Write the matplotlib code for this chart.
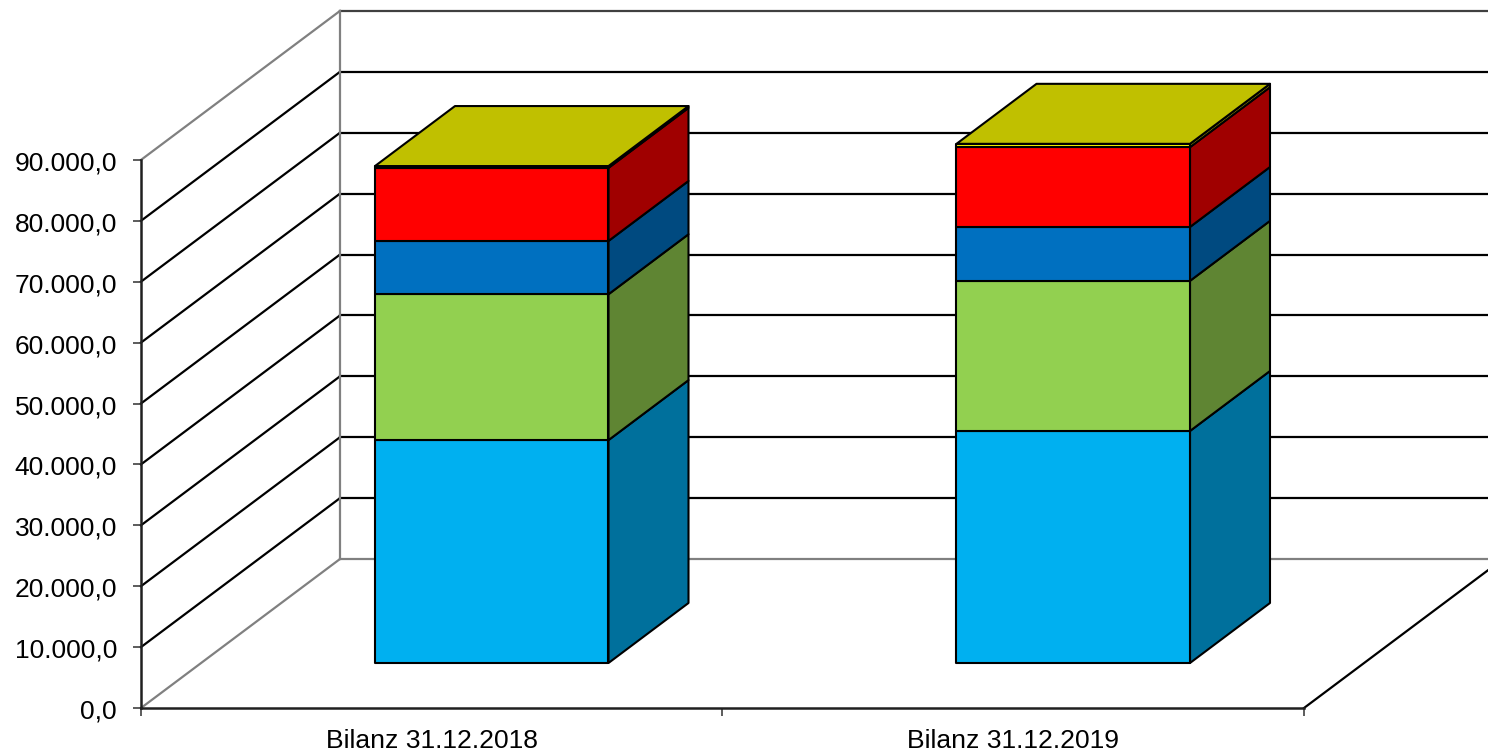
import matplotlib
matplotlib.use('Agg')
import matplotlib.pyplot as plt
from matplotlib.patches import Polygon
from matplotlib.transforms import ScaledTranslation

plt.rcParams['font.family'] = ['Liberation Sans', 'DejaVu Sans']

# --- data ---
categories = ['Bilanz 31.12.2018', 'Bilanz 31.12.2019']
series_1 = [36600, 38100]
series_2 = [23950, 24650]
series_3 = [8750, 8850]
series_4 = [12000, 13100]
series_5 = [300, 550]
stack = [series_1, series_2, series_3, series_4, series_5]

front_colors = ['#00B0F0', '#92D050', '#0070C0', '#FF0000', '#FFFF00']
side_colors = ['#00709C', '#5F8533', '#004A80', '#A00000', '#A0A000']
top_color = '#C0C000'

y_ticks = list(range(0, 100000, 10000))

# --- layout: pixels per data unit, 3D offsets ---
W, H = 1488, 752
PX_X = 581.5     # px per category
PX_Y = 0.00609   # px per value unit
ORIGIN_X, ORIGIN_Y = 141, 708
BAR_WIDTH = 233.5 / PX_X

wall_dx, wall_dy = 199 / PX_X, 149 / PX_Y     # front plane -> back wall
bar_dx, bar_dy = 60 / PX_X, 45 / PX_Y         # front plane -> bar front
depth_dx, depth_dy = 80 / PX_X, 60 / PX_Y     # bar front -> bar back

fig = plt.figure(figsize=(W / 100, H / 100), dpi=100)
ax = fig.add_axes([0, 0, 1, 1])
ax.set_xlim(-ORIGIN_X / PX_X, (W - ORIGIN_X) / PX_X)
ax.set_ylim((ORIGIN_Y - H) / PX_Y, ORIGIN_Y / PX_Y)
ax.patch.set_visible(False)

LW = 1.6
BAR_LW = 1.5
GRID = '#000000'
EDGE = '#808080'
right_end = (W - ORIGIN_X) / PX_X + 0.1

# --- walls and gridlines ---
for v in y_ticks:
    c = EDGE if v in (0, y_ticks[-1]) else GRID
    ax.plot([0, wall_dx], [v, v + wall_dy], color=c, lw=LW, zorder=1)
    back_c = '#404040' if v == y_ticks[-1] else c
    ax.plot([wall_dx, right_end], [v + wall_dy, v + wall_dy], color=back_c, lw=LW, zorder=1)
ax.plot([wall_dx, wall_dx], [wall_dy, y_ticks[-1] + wall_dy], color=EDGE, lw=LW, zorder=1)
ax.plot([2, 2 + wall_dx], [0, wall_dy], color=GRID, lw=LW, zorder=1)

# --- stacked 3D bars ---
for i in range(len(categories)):
    x0 = i + 0.5 - BAR_WIDTH / 2 + bar_dx
    x1 = x0 + BAR_WIDTH
    base = bar_dy
    for j, values in enumerate(stack):
        top = base + values[i]
        front = [(x0, base), (x1, base), (x1, top), (x0, top)]
        side = [(x1, base), (x1 + depth_dx, base + depth_dy),
                (x1 + depth_dx, top + depth_dy), (x1, top)]
        ax.add_patch(Polygon(side, fc=side_colors[j], ec='black', lw=BAR_LW, zorder=3, joinstyle='round'))
        ax.add_patch(Polygon(front, fc=front_colors[j], ec='black', lw=BAR_LW, zorder=3, joinstyle='round'))
        base = top
    roof = [(x0, base), (x1, base), (x1 + depth_dx, base + depth_dy), (x0 + depth_dx, base + depth_dy)]
    ax.add_patch(Polygon(roof, fc=top_color, ec='black', lw=BAR_LW, zorder=3, joinstyle='round'))

# --- axes ---
for s in ('top', 'right'):
    ax.spines[s].set_visible(False)
ax.spines['left'].set_position(('data', 0))
ax.spines['left'].set_bounds(0, y_ticks[-1])
ax.spines['bottom'].set_position(('data', 0))
ax.spines['bottom'].set_bounds(0, 2)
for s in ('left', 'bottom'):
    ax.spines[s].set_linewidth(1.8)
    ax.spines[s].set_color('#202020')
    ax.spines[s].set_zorder(2)

ax.set_yticks(y_ticks)
ax.set_yticklabels([f'{v:,.1f}'.replace(',', 'X').replace('.', ',').replace('X', '.') for v in y_ticks])
ax.tick_params(axis='y', length=5.8, width=1.1, pad=11.5, labelsize=19, color='#303030', labelcolor='black')
ax.set_xticks([0, 1, 2])
ax.set_xticklabels([])
ax.set_xticks([0.5, 1.5], minor=True)
ax.set_xticklabels(categories, minor=True)
ax.tick_params(axis='x', which='major', length=5.8, width=1.1, color='#303030')
ax.tick_params(axis='x', which='minor', length=0, pad=15.2, labelsize=19.05, labelcolor='black')

# y labels sit a pixel below their ticks in the original
nudge = ScaledTranslation(0, -1 / 100, fig.dpi_scale_trans)
for label in ax.get_yticklabels():
    label.set_transform(label.get_transform() + nudge)

fig.savefig('out.png', dpi=100, facecolor='white')
